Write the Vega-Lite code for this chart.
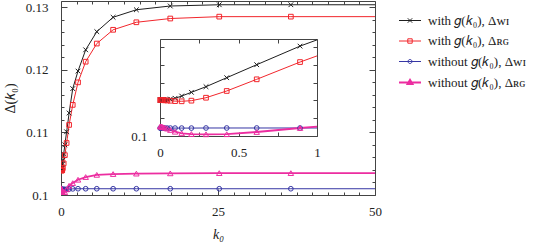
{
  "$schema": "https://vega.github.io/schema/vega-lite/v6.json",
  "width": 314,
  "height": 194,
  "autosize": {"type": "none"},
  "padding": {"left": 61, "top": 1, "right": 171, "bottom": 47},
  "background": "white",
  "config": {
    "view": {"stroke": "#444", "strokeWidth": 1},
    "font": "Liberation Serif",
    "axis": {"labelFont": "Liberation Serif", "labelFontSize": 13, "labelColor": "#222", "tickColor": "#444", "domainColor": "#444", "grid": false, "tickWidth": 1, "titleFont": "Liberation Serif", "titleFontWeight": "normal", "titleFontSize": 14, "titleColor": "#222", "labelFlush": false, "labelOverlap": false}
  },
  "datasets": {
    "curves": [
      {"s":"A","k":0.001,"v":0.10404},{"s":"A","k":0.005,"v":0.10404},{"s":"A","k":0.01,"v":0.10404},{"s":"A","k":0.015,"v":0.10404},{"s":"A","k":0.022,"v":0.10405},{"s":"A","k":0.031,"v":0.10406},{"s":"A","k":0.046,"v":0.10409},{"s":"A","k":0.066,"v":0.10415},{"s":"A","k":0.096,"v":0.10424},{"s":"A","k":0.138,"v":0.10449},{"s":"A","k":0.2,"v":0.10491},{"s":"A","k":0.293,"v":0.10554},{"s":"A","k":0.425,"v":0.10655},{"s":"A","k":0.616,"v":0.10801},{"s":"A","k":0.892,"v":0.1101},{"s":"A","k":1,"v":0.1108},{"s":"A","k":1.29,"v":0.1131},{"s":"A","k":1.87,"v":0.117},{"s":"A","k":2.71,"v":0.1198},{"s":"A","k":3.93,"v":0.1232},{"s":"A","k":5.7,"v":0.1261},{"s":"A","k":8.3,"v":0.1284},{"s":"A","k":12,"v":0.1296},{"s":"A","k":17.4,"v":0.1302},{"s":"A","k":25.2,"v":0.1304},{"s":"A","k":36.6,"v":0.1304},{"s":"A","k":53,"v":0.1304},
      {"s":"B","k":0.001,"v":0.10404},{"s":"B","k":0.005,"v":0.10404},{"s":"B","k":0.01,"v":0.10404},{"s":"B","k":0.015,"v":0.10403},{"s":"B","k":0.022,"v":0.10402},{"s":"B","k":0.031,"v":0.10401},{"s":"B","k":0.046,"v":0.10399},{"s":"B","k":0.066,"v":0.10396},{"s":"B","k":0.096,"v":0.10392},{"s":"B","k":0.138,"v":0.1039},{"s":"B","k":0.2,"v":0.10397},{"s":"B","k":0.293,"v":0.1043},{"s":"B","k":0.425,"v":0.10506},{"s":"B","k":0.616,"v":0.10637},{"s":"B","k":0.892,"v":0.10831},{"s":"B","k":1,"v":0.109},{"s":"B","k":1.29,"v":0.1112},{"s":"B","k":1.87,"v":0.1144},{"s":"B","k":2.71,"v":0.118},{"s":"B","k":3.93,"v":0.1213},{"s":"B","k":5.7,"v":0.1242},{"s":"B","k":8.3,"v":0.1264},{"s":"B","k":12,"v":0.1276},{"s":"B","k":17.4,"v":0.1282},{"s":"B","k":25.2,"v":0.1285},{"s":"B","k":36.6,"v":0.1285},{"s":"B","k":53,"v":0.1285},
      {"s":"C","k":0.001,"v":0.10089},{"s":"C","k":0.005,"v":0.10089},{"s":"C","k":0.01,"v":0.10089},{"s":"C","k":0.015,"v":0.10089},{"s":"C","k":0.022,"v":0.10089},{"s":"C","k":0.031,"v":0.10089},{"s":"C","k":0.046,"v":0.10089},{"s":"C","k":0.066,"v":0.10089},{"s":"C","k":0.096,"v":0.10089},{"s":"C","k":0.138,"v":0.10089},{"s":"C","k":0.2,"v":0.10089},{"s":"C","k":0.293,"v":0.1009},{"s":"C","k":0.425,"v":0.1009},{"s":"C","k":0.616,"v":0.1009},{"s":"C","k":0.892,"v":0.1009},{"s":"C","k":1,"v":0.1009},{"s":"C","k":1.29,"v":0.10095},{"s":"C","k":1.87,"v":0.10098},{"s":"C","k":2.71,"v":0.101},{"s":"C","k":3.93,"v":0.101},{"s":"C","k":5.7,"v":0.101},{"s":"C","k":8.3,"v":0.101},{"s":"C","k":12,"v":0.101},{"s":"C","k":17.4,"v":0.101},{"s":"C","k":25.2,"v":0.101},{"s":"C","k":36.6,"v":0.101},{"s":"C","k":53,"v":0.101},
      {"s":"D","k":0.001,"v":0.10108},{"s":"D","k":0.005,"v":0.10107},{"s":"D","k":0.01,"v":0.10105},{"s":"D","k":0.015,"v":0.10102},{"s":"D","k":0.022,"v":0.10098},{"s":"D","k":0.031,"v":0.10092},{"s":"D","k":0.046,"v":0.10083},{"s":"D","k":0.066,"v":0.10068},{"s":"D","k":0.096,"v":0.10048},{"s":"D","k":0.138,"v":0.1003},{"s":"D","k":0.2,"v":0.10022},{"s":"D","k":0.293,"v":0.10019},{"s":"D","k":0.425,"v":0.1002},{"s":"D","k":0.616,"v":0.10045},{"s":"D","k":0.892,"v":0.1009},{"s":"D","k":1,"v":0.10106},{"s":"D","k":1.29,"v":0.10148},{"s":"D","k":1.87,"v":0.1019},{"s":"D","k":2.71,"v":0.10244},{"s":"D","k":3.93,"v":0.10287},{"s":"D","k":5.7,"v":0.10322},{"s":"D","k":8.3,"v":0.10335},{"s":"D","k":12,"v":0.10342},{"s":"D","k":17.4,"v":0.10346},{"s":"D","k":25.2,"v":0.1035},{"s":"D","k":36.6,"v":0.1035},{"s":"D","k":53,"v":0.1035}
    ]
  },
  "data": {"name": "curves"},
  "layer": [
    {
      "layer": [
        {
          "mark": {"type": "line", "clip": true},
          "encoding": {
            "x": {"field": "k", "type": "quantitative", "scale": {"domain": [0, 50], "nice": false, "zero": false},
              "axis": {"orient": "bottom", "values": [0,2.5,5,7.5,10,12.5,15,17.5,20,22.5,25,27.5,30,32.5,35,37.5,40,42.5,45,47.5,50],
                "labelExpr": "datum.value % 25 === 0 ? format(datum.value, 'd') : ''",
                "tickSize": {"condition": {"test": "datum.value % 25 === 0", "value": -6}, "value": -3},
                "labelPadding": 16, "domain": false, "title": "k₀", "titleFontStyle": "italic", "titlePadding": 6}},
            "y": {"field": "v", "type": "quantitative", "scale": {"domain": [0.1, 0.131], "nice": false, "zero": false},
              "axis": {"orient": "left", "values": [0.1,0.102,0.104,0.106,0.108,0.11,0.112,0.114,0.116,0.118,0.12,0.122,0.124,0.126,0.128,0.13],
                "labelExpr": "round(datum.value*1000) % 10 === 0 ? format(datum.value, '.2~f') : ''",
                "tickSize": {"condition": {"test": "round(datum.value*1000) % 10 === 0", "value": -6}, "value": -3},
                "labelPadding": 19, "domain": false, "title": "Δ(𝑘₀)", "titlePadding": 8}},
            "color": {"field": "s", "type": "nominal", "scale": {"domain": ["A","B","C","D"], "range": ["#1e1e1e","#f2262c","#3636a4","#ec2da0"]},
              "legend": {"orient": "none", "legendX": 338, "legendY": 9, "title": null, "symbolSize": 400, "symbolStrokeWidth": 1, "symbolOpacity": 1,
                "labelFont": "Liberation Serif", "labelFontSize": 13, "labelColor": "#222", "labelOffset": 7, "rowPadding": 2.5, "padding": 0,
                "labelExpr": "datum.value === 'A' ? 'with 𝑔(𝑘₀), Δᴡɪ' : datum.value === 'B' ? 'with 𝑔(𝑘₀), Δʀɢ' : datum.value === 'C' ? 'without 𝑔(𝑘₀), Δᴡɪ' : 'without 𝑔(𝑘₀), Δʀɢ'",
                "encode": {"symbols": {"update": {
                  "shape": {"signal": "datum.value === 'A' ? 'M-1.1,0H1.1M-0.22,-0.22L0.22,0.22M-0.22,0.22L0.22,-0.22' : datum.value === 'B' ? 'M-1.1,0H1.1M-0.22,-0.22H0.22V0.22H-0.22Z' : datum.value === 'C' ? 'M-1.1,0H1.1M-0.2,0A0.2,0.2,0,1,0,0.2,0A0.2,0.2,0,1,0,-0.2,0' : 'M-1.1,0H1.1M0,-0.28L0.26,0.17H-0.26Z'"},
                  "fill": {"value": "transparent"},
                  "strokeWidth": {"signal": "datum.value === 'D' ? 1.8 : 1"}
                }}}}},
            "strokeWidth": {"field": "s", "type": "nominal", "scale": {"type": "ordinal", "domain": ["A","B","C","D"], "range": [1,1,1,1.8]}, "legend": null}
          }
        },
        {
          "mark": {"type": "point", "clip": true, "filled": false, "size": 22, "strokeWidth": 1, "opacity": 1, "shape": "M-1,-1L1,1M-1,1L1,-1", "color": "#1e1e1e"},
          "transform": [{"filter": "datum.s === 'A' && datum.k != 1"}],
          "encoding": {
            "x": {"field": "k", "type": "quantitative", "scale": {"domain": [0, 50], "nice": false, "zero": false}, "axis": null},
            "y": {"field": "v", "type": "quantitative", "scale": {"domain": [0.1, 0.131], "nice": false, "zero": false}, "axis": null}
          }
        },
        {
          "mark": {"type": "point", "clip": true, "filled": false, "size": 22, "strokeWidth": 1, "opacity": 1, "shape": "square", "color": "#f2262c"},
          "transform": [{"filter": "datum.s === 'B' && datum.k != 1"}],
          "encoding": {
            "x": {"field": "k", "type": "quantitative", "scale": {"domain": [0, 50], "nice": false, "zero": false}, "axis": null},
            "y": {"field": "v", "type": "quantitative", "scale": {"domain": [0.1, 0.131], "nice": false, "zero": false}, "axis": null}
          }
        },
        {
          "mark": {"type": "point", "clip": true, "filled": false, "size": 22, "strokeWidth": 1, "opacity": 1, "shape": "circle", "color": "#3636a4"},
          "transform": [{"filter": "datum.s === 'C' && datum.k != 1"}],
          "encoding": {
            "x": {"field": "k", "type": "quantitative", "scale": {"domain": [0, 50], "nice": false, "zero": false}, "axis": null},
            "y": {"field": "v", "type": "quantitative", "scale": {"domain": [0.1, 0.131], "nice": false, "zero": false}, "axis": null}
          }
        },
        {
          "mark": {"type": "point", "clip": true, "filled": false, "size": 30, "strokeWidth": 1, "opacity": 1, "shape": "triangle-up", "color": "#ec2da0"},
          "transform": [{"filter": "datum.s === 'D' && datum.k != 1"}],
          "encoding": {
            "x": {"field": "k", "type": "quantitative", "scale": {"domain": [0, 50], "nice": false, "zero": false}, "axis": null},
            "y": {"field": "v", "type": "quantitative", "scale": {"domain": [0.1, 0.131], "nice": false, "zero": false}, "axis": null}
          }
        },
        {
          "mark": {"type": "point", "opacity": 0},
          "transform": [{"filter": "datum.k == 1"}],
          "encoding": {
            "x": {"field": "k", "type": "quantitative", "scale": {"domain": [0, 50], "nice": false, "zero": false},
              "axis": {"orient": "top", "values": [0,2.5,5,7.5,10,12.5,15,17.5,20,22.5,25,27.5,30,32.5,35,37.5,40,42.5,45,47.5,50], "labels": false, "domain": false, "title": null,
                "tickSize": {"condition": {"test": "datum.value % 25 === 0", "value": -6}, "value": -3}}},
            "y": {"field": "v", "type": "quantitative", "scale": {"domain": [0.1, 0.131], "nice": false, "zero": false},
              "axis": {"orient": "right", "values": [0.1,0.102,0.104,0.106,0.108,0.11,0.112,0.114,0.116,0.118,0.12,0.122,0.124,0.126,0.128,0.13], "labels": false, "domain": false, "title": null,
                "tickSize": {"condition": {"test": "round(datum.value*1000) % 10 === 0", "value": -6}, "value": -3}}}
          }
        }
      ]
    },
    {
      "layer": [
        {
          "mark": {"type": "line"},
          "transform": [{"filter": "datum.k <= 1"}],
          "encoding": {
            "x": {"field": "k", "type": "quantitative", "scale": {"domain": [0, 1], "range": [99, 256], "nice": false, "zero": false},
              "axis": {"orient": "bottom", "offset": -59, "values": [0,0.25,0.5,0.75,1], "labelExpr": "datum.value % 0.5 === 0 ? format(datum.value, '~g') : ''",
                "tickSize": -4, "labelPadding": 14, "domain": true, "title": null}},
            "y": {"field": "v", "type": "quantitative", "scale": {"domain": [0.1, 0.1109], "range": [135, 38], "nice": false, "zero": false},
              "axis": {"orient": "left", "offset": -99, "values": [0.1,0.102,0.104,0.106,0.108,0.11], "labelExpr": "datum.value === 0.1 ? '0.1' : ''",
                "tickSize": -4, "labelPadding": 17, "domain": true, "title": null}},
            "color": {"field": "s", "type": "nominal", "scale": {"domain": ["A","B","C","D"], "range": ["#1e1e1e","#f2262c","#3636a4","#ec2da0"]}},
            "strokeWidth": {"field": "s", "type": "nominal", "scale": {"type": "ordinal", "domain": ["A","B","C","D"], "range": [1,1,1,1.8]}, "legend": null}
          }
        },
        {
          "mark": {"type": "point", "filled": false, "size": 22, "strokeWidth": 1, "opacity": 1, "shape": "M-1,-1L1,1M-1,1L1,-1", "color": "#1e1e1e"},
          "transform": [{"filter": "datum.s === 'A' && datum.k < 1"}],
          "encoding": {
            "x": {"field": "k", "type": "quantitative", "scale": {"domain": [0, 1], "range": [99, 256], "nice": false, "zero": false}, "axis": null},
            "y": {"field": "v", "type": "quantitative", "scale": {"domain": [0.1, 0.1109], "range": [135, 38], "nice": false, "zero": false}, "axis": null}
          }
        },
        {
          "mark": {"type": "point", "filled": false, "size": 22, "strokeWidth": 1, "opacity": 1, "shape": "square", "color": "#f2262c"},
          "transform": [{"filter": "datum.s === 'B' && datum.k < 1"}],
          "encoding": {
            "x": {"field": "k", "type": "quantitative", "scale": {"domain": [0, 1], "range": [99, 256], "nice": false, "zero": false}, "axis": null},
            "y": {"field": "v", "type": "quantitative", "scale": {"domain": [0.1, 0.1109], "range": [135, 38], "nice": false, "zero": false}, "axis": null}
          }
        },
        {
          "mark": {"type": "point", "filled": false, "size": 22, "strokeWidth": 1, "opacity": 1, "shape": "circle", "color": "#3636a4"},
          "transform": [{"filter": "datum.s === 'C' && datum.k < 1"}],
          "encoding": {
            "x": {"field": "k", "type": "quantitative", "scale": {"domain": [0, 1], "range": [99, 256], "nice": false, "zero": false}, "axis": null},
            "y": {"field": "v", "type": "quantitative", "scale": {"domain": [0.1, 0.1109], "range": [135, 38], "nice": false, "zero": false}, "axis": null}
          }
        },
        {
          "mark": {"type": "point", "filled": false, "size": 30, "strokeWidth": 1, "opacity": 1, "shape": "triangle-up", "color": "#ec2da0"},
          "transform": [{"filter": "datum.s === 'D' && datum.k < 1"}],
          "encoding": {
            "x": {"field": "k", "type": "quantitative", "scale": {"domain": [0, 1], "range": [99, 256], "nice": false, "zero": false}, "axis": null},
            "y": {"field": "v", "type": "quantitative", "scale": {"domain": [0.1, 0.1109], "range": [135, 38], "nice": false, "zero": false}, "axis": null}
          }
        },
        {
          "mark": {"type": "point", "opacity": 0},
          "transform": [{"filter": "datum.k == 1"}],
          "encoding": {
            "x": {"field": "k", "type": "quantitative", "scale": {"domain": [0, 1], "range": [99, 256], "nice": false, "zero": false},
              "axis": {"orient": "top", "offset": -38, "values": [0,0.25,0.5,0.75,1], "labels": false, "tickSize": -4, "domain": true, "title": null}},
            "y": {"field": "v", "type": "quantitative", "scale": {"domain": [0.1, 0.1109], "range": [135, 38], "nice": false, "zero": false},
              "axis": {"orient": "right", "offset": -58, "values": [0.1,0.102,0.104,0.106,0.108,0.11], "labels": false, "tickSize": -4, "domain": true, "title": null}}
          }
        }
      ]
    }
  ],
  "resolve": {"scale": {"x": "independent", "y": "independent"}}
}
